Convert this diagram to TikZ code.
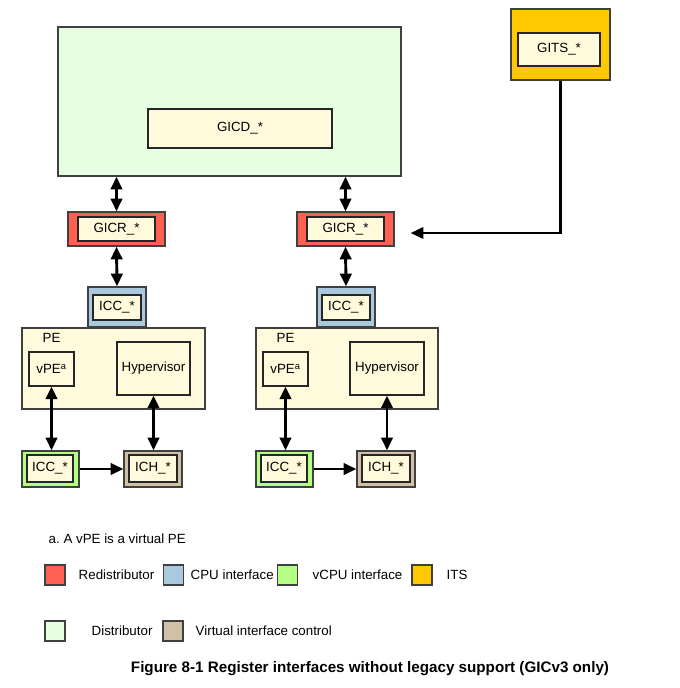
\documentclass[tikz,border=0pt]{standalone}
\usepackage{fontspec}
\setmainfont{Liberation Sans}
\usepackage{tikz}
\usetikzlibrary{arrows.meta,calc}
\definecolor{distcol}{HTML}{E6FFE1}
\definecolor{cream}{HTML}{FFFADC}
\definecolor{redcol}{HTML}{FF6152}
\definecolor{cpucol}{HTML}{ABC9DE}
\definecolor{vcpucol}{HTML}{B2FF84}
\definecolor{itscol}{HTML}{FFC800}
\definecolor{vifcol}{HTML}{D1C0A6}
\tikzset{
	sz/.style 2 args={minimum width=#1*0.75pt, minimum height=#2*0.75pt},
	outer/.style={draw=black!75, line width=1pt, inner sep=0pt},
	inner/.style={draw=black!85, fill=cream, line width=0.8pt, inner sep=0pt},
	link/.style={line width=2.2pt, {Triangle[length=9.5pt,width=8.5pt]}-{Triangle[length=9.5pt,width=8.5pt]}},
	onelink/.style={line width=2.2pt, -{Triangle[length=9.5pt,width=8.5pt]}},
	key/.style={draw=black!75, line width=0.8pt, sz={20}{20}, inner sep=0pt},
}

\begin{document}
\begin{tikzpicture}[x=0.75pt, y=-0.75pt, font=\fontsize{10}{12}\selectfont]
	\useasboundingbox (0,0) rectangle (679,688);
%	distributor and ITS
	\node[outer, fill=distcol, sz={343}{149}] (dist) at (229.5,101.5) {};
	\node[inner, sz={184}{39}] (gicd) at (240,128.5) {GICD\_*};
	\node[outer, fill=itscol, sz={99}{71}] (its) at (560.5,44.5) {};
	\node[inner, sz={82}{33}] (gits) at (559,49.5) {GITS\_*};
%	left PE
	\node[outer, fill=redcol, sz={97}{34}] (gicrL) at (116.5,229) {};
	\node[inner, sz={77}{24}] (gicrLin) at (116.5,229) {GICR\_*};
	\node[outer, fill=cpucol, sz={58}{40}] (iccL) at (117,307) {};
	\node[inner, sz={48}{25}] (iccLin) at (117,307.5) {ICC\_*};
	\node[outer, fill=cream, sz={183}{81}] (peL) at (113.5,368.5) {};
	\node[anchor=west] (peLlab) at (38,338) {PE};
	\node[inner, sz={45}{34}] (vpeL) at (51.5,369) {vPE\textsuperscript{a}};
	\node[inner, sz={73}{53}] (hypL) at (153.5,368.5) {Hypervisor};
	\node[outer, fill=vcpucol, sz={57}{36}] (vccL) at (50.5,469) {};
	\node[inner, sz={46}{27}] (vccLin) at (50,468.5) {ICC\_*};
	\node[outer, fill=vifcol, sz={58}{36}] (ichL) at (153,469) {};
	\node[inner, sz={48}{27}] (ichLin) at (153,468.5) {ICH\_*};
%	right PE
	\node[outer, fill=redcol, sz={97}{34}] (gicrR) at (345.5,229) {};
	\node[inner, sz={77}{24}] (gicrRin) at (345.5,229) {GICR\_*};
	\node[outer, fill=cpucol, sz={58}{40}] (iccR) at (346,307) {};
	\node[inner, sz={48}{25}] (iccRin) at (346,307.5) {ICC\_*};
	\node[outer, fill=cream, sz={182}{81}] (peR) at (347,368.5) {};
	\node[anchor=west] (peRlab) at (272,338) {PE};
	\node[inner, sz={45}{34}] (vpeR) at (285.5,369) {vPE\textsuperscript{a}};
	\node[inner, sz={74}{53}] (hypR) at (387,368.5) {Hypervisor};
	\node[outer, fill=vcpucol, sz={57}{36}] (vccR) at (284.5,469) {};
	\node[inner, sz={46}{27}] (vccRin) at (284,468.5) {ICC\_*};
	\node[outer, fill=vifcol, sz={58}{36}] (ichR) at (386,469) {};
	\node[inner, sz={48}{27}] (ichRin) at (386,468.5) {ICH\_*};
%	connections
	\draw[link] (gicrL.north |- dist.south) -- (gicrL.north);
	\draw[link] (gicrR.north |- dist.south) -- (gicrR.north);
	\draw[link] (gicrL.south) -- (iccL.north);
	\draw[link] (gicrR.south) -- (iccR.north);
	\draw[link] (vpeL.south) -- (vccL.north -| vpeL.south);
	\draw[link] (hypL.south) -- (ichL.north -| hypL.south);
	\draw[link] (vpeR.south) -- (vccR.north -| vpeR.south);
	\draw[link] (hypR.south) -- (ichR.north -| hypR.south);
	\draw[onelink] (vccL.east) -- (ichL.west);
	\draw[onelink] (vccR.east) -- (ichR.west);
	\draw[onelink, line width=1.8pt, shorten >=12pt] (its.south) |- ($(gicrR.east)+(0,4)$);
%	footnote and key
	\node[anchor=west] (note) at (44,539) {a.\ A vPE is a virtual PE};
	\node[key, fill=redcol] (kRed) at (55,575) {};
	\node[anchor=west] (kRedlab) at (74,575) {Redistributor};
	\node[key, fill=cpucol] (kCpu) at (173.5,575) {};
	\node[anchor=west] (kCpulab) at (186,575) {CPU interface};
	\node[key, fill=vcpucol] (kVcpu) at (287.5,575) {};
	\node[anchor=west] (kVcpulab) at (308,575) {vCPU interface};
	\node[key, fill=itscol] (kIts) at (422,575) {};
	\node[anchor=west] (kItslab) at (442,575) {ITS};
	\node[key, fill=distcol] (kDist) at (55,631) {};
	\node[anchor=west] (kDistlab) at (87,631) {Distributor};
	\node[key, fill=vifcol] (kVif) at (173,631) {};
	\node[anchor=west] (kViflab) at (191,631) {Virtual interface control};
%	caption
	\node[font=\fontsize{11.4}{13}\selectfont\bfseries] (cap) at (370,669) {Figure 8-1 Register interfaces without legacy support (GICv3 only)};
\end{tikzpicture}
\end{document}
